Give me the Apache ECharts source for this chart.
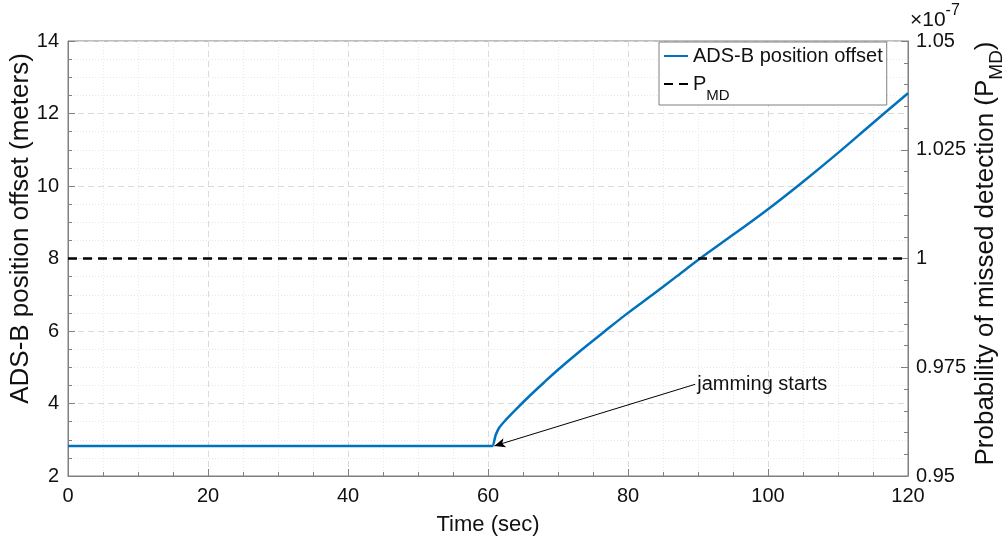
<!DOCTYPE html>
<html>
<head>
<meta charset="utf-8">
<script src="https://cdn.jsdelivr.net/npm/echarts@6/dist/echarts.min.js"></script>
<style>
  html, body { margin: 0; background: #fff; }
  #chart { width: 1007px; height: 542px; }
</style>
</head>
<body>
<div id="chart"></div>
<script>
// time (sec) and ADS-B position offset (meters)
var timeSec = [0, 30, 60, 60.6, 61.1, 61.6, 62.6, 64, 66, 68, 70, 73.3, 76.6, 80, 83.5, 86.9, 90.3, 95.2, 100, 104.7, 109.5, 114.7, 120];
var offsetMeters = [2.83, 2.83, 2.83, 2.83, 3.13, 3.33, 3.56, 3.84, 4.22, 4.58, 4.93, 5.47, 5.98, 6.5, 7.0, 7.5, 8.0, 8.68, 9.36, 10.07, 10.83, 11.69, 12.56];

// P_MD threshold (x 1e-7), right axis
var pmdTime = [0, 120];
var pmdValue = [1, 1];

// annotation arrow (data coords)
var arrowTail = [89.6, 4.53];
var arrowHead = [60.9, 2.83];

var axisGrey = '#7f7f7f';
var textColor = '#111';
var font = 'Arial, "Liberation Sans", Helvetica, sans-serif';

var chart = echarts.init(document.getElementById('chart'));

var option = {
    animation: false,
    textStyle: { fontFamily: font },
    grid: {
        left: 68, right: 99, top: 41, bottom: 66,
        containLabel: false,
        outerBoundsMode: 'none',
        show: true, borderColor: axisGrey, borderWidth: 1
    },
    legend: {
        left: 659, top: 42,
        orient: 'vertical',
        backgroundColor: '#fff',
        borderColor: axisGrey, borderWidth: 1, borderRadius: 0,
        padding: [2, 4, 2, 4],
        itemGap: 6,
        itemWidth: 24, itemHeight: 14,
        itemStyle: { opacity: 0 },
        textStyle: {
            fontSize: 20, color: textColor, lineHeight: 24,
            rich: {
                p: { fontSize: 20, lineHeight: 20, verticalAlign: 'top', color: textColor },
                sub: { fontSize: 15, lineHeight: 15, padding: [14, 0, 0, 0], verticalAlign: 'top', color: textColor }
            }
        },
        formatter: function (name) {
            return name === 'P_MD' ? '{p|P}{sub|MD}' : name;
        },
        data: ['ADS-B position offset', 'P_MD']
    },
    graphic: [{
        type: 'text',
        left: 910, top: 3,
        style: {
            text: '{b|×10}{s|-7}',
            rich: {
                b: { fontSize: 21, lineHeight: 28, verticalAlign: 'bottom', fill: textColor, fontFamily: font },
                s: { fontSize: 16, lineHeight: 16, verticalAlign: 'top', fill: textColor, fontFamily: font }
            }
        }
    }],
    xAxis: {
        type: 'value',
        min: 0, max: 120, interval: 20,
        name: 'Time (sec)',
        nameLocation: 'middle',
        nameGap: 38,
        nameMoveOverlap: false,
        nameTextStyle: { fontSize: 22, color: textColor },
        axisLine: { show: true, lineStyle: { color: axisGrey } },
        axisTick: { show: true, inside: true, length: 7, lineStyle: { color: axisGrey } },
        minorTick: { show: true, splitNumber: 4, length: 4, lineStyle: { color: axisGrey } },
        axisLabel: { fontSize: 20, color: textColor, margin: 10 },
        splitLine: { show: true, lineStyle: { color: '#dadada', type: [6, 4] } },
        minorSplitLine: { show: true, lineStyle: { color: '#e8e8e8', type: [1, 2] } }
    },
    yAxis: [{
        type: 'value',
        position: 'left',
        min: 2, max: 14, interval: 2,
        name: 'ADS-B position offset (meters)',
        nameLocation: 'middle',
        nameGap: 34,
        nameMoveOverlap: false,
        // label sits a little above the middle in the source figure
        nameTextStyle: { fontSize: 26, color: textColor, padding: [0, 0, 0, 60] },
        axisLine: { show: true, lineStyle: { color: axisGrey } },
        axisTick: { show: true, inside: true, length: 7, lineStyle: { color: axisGrey } },
        minorTick: { show: true, splitNumber: 4, length: 4, lineStyle: { color: axisGrey } },
        axisLabel: { fontSize: 20, color: textColor, margin: 9 },
        splitLine: { show: true, lineStyle: { color: '#dadada', type: [6, 4] } },
        minorSplitLine: { show: true, lineStyle: { color: '#e8e8e8', type: [1, 2] } }
    }, {
        type: 'value',
        position: 'right',
        min: 0.95, max: 1.05, interval: 0.025,
        name: 'Probability of missed detection (P{sub|MD})',
        nameLocation: 'middle',
        nameRotate: 90,
        nameGap: 63,
        nameMoveOverlap: false,
        nameTextStyle: {
            fontSize: 26, color: textColor, lineHeight: 30, padding: [0, 0, 0, 10],
            rich: {
                sub: { fontSize: 19, lineHeight: 19, padding: [16, 0, 0, 0], verticalAlign: 'top', color: textColor }
            }
        },
        axisLine: { show: true, lineStyle: { color: axisGrey } },
        axisTick: { show: true, inside: true, length: 7, lineStyle: { color: axisGrey } },
        minorTick: { show: true, splitNumber: 5, length: 4, lineStyle: { color: axisGrey } },
        axisLabel: {
            fontSize: 20, color: textColor, margin: 8,
            formatter: function (v) { return String(parseFloat(v.toFixed(3))); }
        },
        splitLine: { show: false }
    }],
    series: [{
        name: 'ADS-B position offset',
        type: 'line',
        yAxisIndex: 0,
        symbol: 'none',
        showSymbol: false,
        smooth: 0.3,
        data: timeSec.map(function (t, i) { return [t, offsetMeters[i]]; }),
        lineStyle: { color: '#0072BD', width: 2.5 },
        itemStyle: { color: '#0072BD' },
        markLine: {
            silent: true,
            symbol: ['none', 'arrow'],
            symbolSize: [7, 11],
            lineStyle: { color: '#000', width: 1, type: 'solid' },
            label: { show: false },
            data: [[{ coord: arrowTail }, { coord: arrowHead }]]
        },
        markPoint: {
            silent: true,
            symbol: 'circle',
            symbolSize: 0,
            label: {
                show: true, position: 'right', distance: 2,
                formatter: 'jamming starts', fontSize: 20, color: textColor
            },
            data: [{ coord: arrowTail }]
        }
    }, {
        name: 'P_MD',
        type: 'line',
        yAxisIndex: 1,
        symbol: 'none',
        showSymbol: false,
        data: pmdTime.map(function (t, i) { return [t, pmdValue[i]]; }),
        lineStyle: { color: '#000', width: 2.5, type: [9, 6] },
        itemStyle: { color: '#000' }
    }]
};

chart.setOption(option);
</script>
</body>
</html>
